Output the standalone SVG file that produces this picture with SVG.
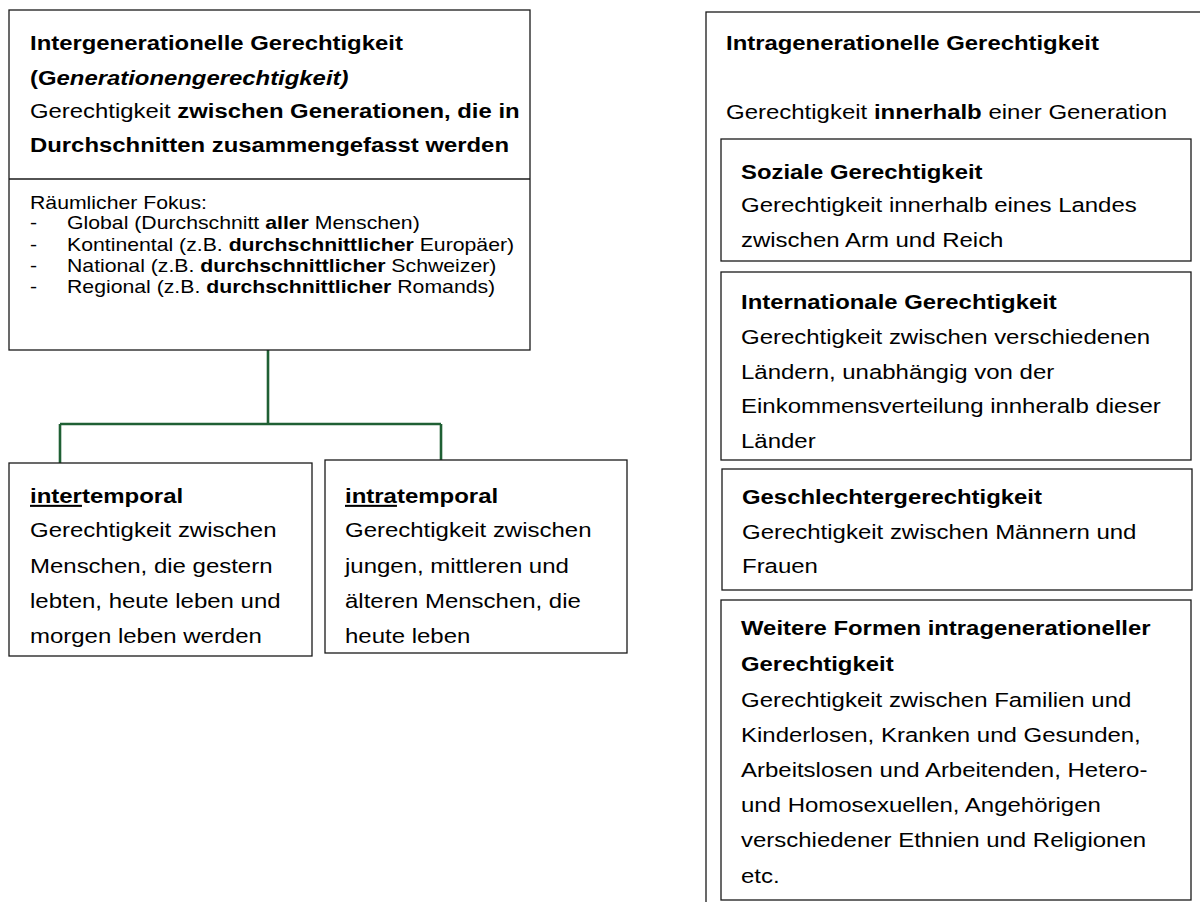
<svg xmlns="http://www.w3.org/2000/svg" width="1200" height="902" viewBox="0 0 1200 902">
<style>
.box{fill:#fff;stroke:#1a1a1a;stroke-width:1.3}
.div{stroke:#1a1a1a;stroke-width:1.3}
.conn{fill:none;stroke:#1f6034;stroke-width:2.6}
text{font-family:"Liberation Sans",Arial,Helvetica,sans-serif;fill:#000}
.t{font-size:20.5px}
.s{font-size:18px}
.b{font-weight:bold}
.i{font-style:italic}
.u{text-decoration:underline;text-decoration-thickness:2.5px}
</style>
<rect width="1200" height="902" fill="#fff"/>
<g id="connectors">
<path class="conn" d="M268,350 V424 M60,424 H441 M60,424 V470 M441,424 V468"/>
</g>
<g id="intergenerationell">
<rect class="box" x="9" y="10" width="521" height="340"/>
<line class="div" x1="9" y1="179" x2="530" y2="179"/>
<text class="t b" transform="translate(30,50) scale(1.165,1)">Intergenerationelle Gerechtigkeit</text>
<text class="t b" transform="translate(30,85) scale(1.165,1)">(G<tspan class="i">enerationengerechtigkeit)</tspan></text>
<text class="t" transform="translate(30,118) scale(1.165,1)">Gerechtigkeit <tspan class="b">zwischen Generationen, die in</tspan></text>
<text class="t b" transform="translate(30,152) scale(1.165,1)">Durchschnitten zusammengefasst werden</text>
<text class="s" transform="translate(30,209) scale(1.18,1)">Räumlicher Fokus:</text>
<text class="s" transform="translate(30,229) scale(1.18,1)">-</text>
<text class="s" transform="translate(67,229) scale(1.18,1)">Global (Durchschnitt <tspan class="b">aller</tspan> Menschen)</text>
<text class="s" transform="translate(30,251) scale(1.18,1)">-</text>
<text class="s" transform="translate(67,251) scale(1.18,1)">Kontinental (z.B. <tspan class="b">durchschnittlicher</tspan> Europäer)</text>
<text class="s" transform="translate(30,272) scale(1.18,1)">-</text>
<text class="s" transform="translate(67,272) scale(1.18,1)">National (z.B. <tspan class="b">durchschnittlicher</tspan> Schweizer)</text>
<text class="s" transform="translate(30,293) scale(1.18,1)">-</text>
<text class="s" transform="translate(67,293) scale(1.18,1)">Regional (z.B. <tspan class="b">durchschnittlicher</tspan> Romands)</text>
</g>
<g id="intertemporal">
<rect class="box" x="9" y="463" width="303" height="193"/>
<text class="t b" transform="translate(30,503) scale(1.17,1)"><tspan class="u">inter</tspan>temporal</text>
<text class="t" transform="translate(30,537) scale(1.17,1)">Gerechtigkeit zwischen</text>
<text class="t" transform="translate(30,573) scale(1.17,1)">Menschen, die gestern</text>
<text class="t" transform="translate(30,608) scale(1.17,1)">lebten, heute leben und</text>
<text class="t" transform="translate(30,643) scale(1.17,1)">morgen leben werden</text>
</g>
<g id="intratemporal">
<rect class="box" x="325" y="460" width="302" height="193"/>
<text class="t b" transform="translate(345,503) scale(1.17,1)"><tspan class="u">intra</tspan>temporal</text>
<text class="t" transform="translate(345,537) scale(1.17,1)">Gerechtigkeit zwischen</text>
<text class="t" transform="translate(345,573) scale(1.17,1)">jungen, mittleren und</text>
<text class="t" transform="translate(345,608) scale(1.17,1)">älteren Menschen, die</text>
<text class="t" transform="translate(345,643) scale(1.17,1)">heute leben</text>
</g>
<g id="intragenerationell">
<rect class="box" x="706" y="12" width="520" height="920"/>
<text class="t b" transform="translate(726,50) scale(1.165,1)">Intragenerationelle Gerechtigkeit</text>
<text class="t" transform="translate(726,119) scale(1.17,1)">Gerechtigkeit <tspan class="b">innerhalb</tspan> einer Generation</text>
</g>
<g id="sozial">
<rect class="box" x="721" y="139" width="470" height="122"/>
<text class="t b" transform="translate(741,179) scale(1.165,1)">Soziale Gerechtigkeit</text>
<text class="t" transform="translate(741,212) scale(1.17,1)">Gerechtigkeit innerhalb eines Landes</text>
<text class="t" transform="translate(741,247) scale(1.17,1)">zwischen Arm und Reich</text>
</g>
<g id="international">
<rect class="box" x="721" y="272" width="470" height="188"/>
<text class="t b" transform="translate(741,309) scale(1.165,1)">Internationale Gerechtigkeit</text>
<text class="t" transform="translate(741,344) scale(1.17,1)">Gerechtigkeit zwischen verschiedenen</text>
<text class="t" transform="translate(741,379) scale(1.17,1)">Ländern, unabhängig von der</text>
<text class="t" transform="translate(741,413) scale(1.17,1)">Einkommensverteilung innheralb dieser</text>
<text class="t" transform="translate(741,448) scale(1.17,1)">Länder</text>
</g>
<g id="geschlecht">
<rect class="box" x="722" y="469" width="470" height="121"/>
<text class="t b" transform="translate(742,504) scale(1.165,1)">Geschlechtergerechtigkeit</text>
<text class="t" transform="translate(742,539) scale(1.17,1)">Gerechtigkeit zwischen Männern und</text>
<text class="t" transform="translate(742,573) scale(1.17,1)">Frauen</text>
</g>
<g id="weitere">
<rect class="box" x="721" y="600" width="470" height="300"/>
<text class="t b" transform="translate(741,635) scale(1.165,1)">Weitere Formen intragenerationeller</text>
<text class="t b" transform="translate(741,671) scale(1.165,1)">Gerechtigkeit</text>
<text class="t" transform="translate(741,707) scale(1.17,1)">Gerechtigkeit zwischen Familien und</text>
<text class="t" transform="translate(741,742) scale(1.17,1)">Kinderlosen, Kranken und Gesunden,</text>
<text class="t" transform="translate(741,777) scale(1.17,1)">Arbeitslosen und Arbeitenden, Hetero-</text>
<text class="t" transform="translate(741,812) scale(1.17,1)">und Homosexuellen, Angehörigen</text>
<text class="t" transform="translate(741,847) scale(1.17,1)">verschiedener Ethnien und Religionen</text>
<text class="t" transform="translate(741,883) scale(1.17,1)">etc.</text>
</g>
</svg>
